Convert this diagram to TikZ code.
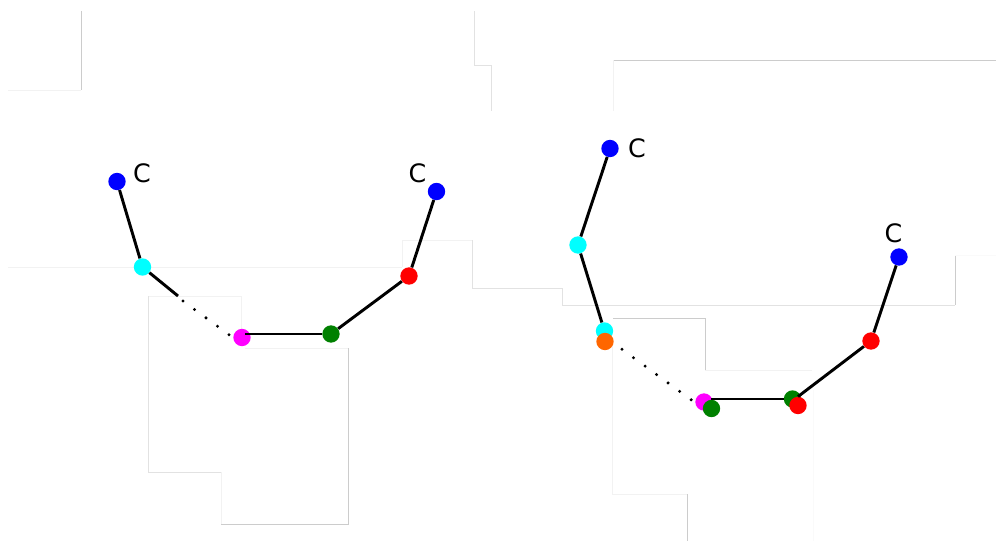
\documentclass[tikz,border=0pt]{standalone}
\usepackage{fontspec}
\setmainfont{DejaVu Sans}
\definecolor{edgeA}{HTML}{CCCCCC}
\definecolor{edgeB}{HTML}{E2E2E2}
\definecolor{edgeC}{HTML}{F2F2F2}
\definecolor{edgeD}{HTML}{FAFAFA}
\definecolor{ptblue}{HTML}{0000FF}
\definecolor{ptred}{HTML}{FF0000}
\definecolor{ptcyan}{HTML}{00FFFF}
\definecolor{ptmagenta}{HTML}{FF00FF}
\definecolor{ptorange}{HTML}{FF6600}
\definecolor{ptgreen}{HTML}{008000}
\tikzset{
  pt/.style={circle,inner sep=0pt,minimum size=13pt,fill=#1,draw=none},
  seg/.style={black,line width=2.2pt},
  dots/.style={black,line width=2.5pt,line cap=round,dash pattern=on 0pt off 10.7pt},
  lab/.style={inner sep=0pt,font=\fontsize{19}{19}\selectfont},
  ga/.style={edgeA,line width=0.7pt},
  gb/.style={edgeB,line width=0.7pt},
  gc/.style={edgeC,line width=0.7pt},
  gd/.style={edgeD,line width=0.7pt}
}
\begin{document}
\begin{tikzpicture}[x=0.75pt,y=-0.75pt]
\useasboundingbox (0,0) rectangle (996,541);
% faint edges
\draw[ga] (81,11) -- (81,90);
\draw[gc] (81,90) -- (8,90);
\draw[gb] (474.5,11) -- (474.5,65) -- (491.5,65) -- (491.5,111);
\draw[gc] (8,267) -- (402,267);
\draw[gc] (402,267) -- (402,240) -- (472.5,240);
\draw[gb] (472.5,240) -- (472.5,288) -- (562,288);
\draw[gb] (562,288) -- (562,305) -- (955,305);
\draw[ga] (955,305) -- (955,255);
\draw[gd] (955,255) -- (996,255);
\draw[gc] (241,330) -- (241,296.5) -- (148,296.5);
\draw[gb] (148,296.5) -- (148,472) -- (221,472);
\draw[gc] (221,472) -- (221,524);
\draw[ga] (221,524) -- (348.3,524) -- (348.3,348.5);
\draw[gc] (348.3,348.5) -- (245,348.5);
\draw[ga] (613,60.5) -- (996,60.5);
\draw[gc] (613,60.5) -- (613,111);
\draw[ga] (613,318.3) -- (705,318.3) -- (705,370);
\draw[gc] (705,370) -- (812,370);
\draw[gd] (813,390) -- (813,541);
\draw[gc] (612,345) -- (612,494) -- (687,494);
\draw[ga] (687,494) -- (687,541);
% left chain
\coordinate (la) at (178,296);
\coordinate (lb) at (183,301);
\coordinate (lc) at (230.5,335.8);
\coordinate (ld) at (245,334);
\node[pt=ptblue] (L1) at (117,181.5) {};
\node[pt=ptcyan] (L2) at (142.5,267) {};
\node[pt=ptmagenta] (L3) at (242,337.5) {};
\node[pt=ptgreen] (L4) at (331,334) {};
\node[pt=ptred] (L5) at (409,276) {};
\node[pt=ptblue] (L6) at (436.5,191.5) {};
\draw[seg] (L1) -- (L2);
\draw[seg] (L2) -- (la);
\draw[dots] (lb) -- (lc);
\draw[seg] (ld) -- (L4);
\draw[seg] (L4) -- (L5);
\draw[seg] (L5) -- (L6);
\node[lab] (C1) at (142,173.5) {C};
\node[lab] (C2) at (417.5,173) {C};
% right chain
\coordinate (ra) at (622,349.3);
\coordinate (rb) at (692.5,400.8);
\coordinate (rc) at (711,399);
\node[pt=ptblue] (R1) at (610,148.5) {};
\node[pt=ptcyan] (R2) at (578,245) {};
\node[pt=ptcyan] (R3) at (604.5,331) {};
\node[pt=ptorange] (R4) at (605,341.5) {};
\node[pt=ptmagenta] (R5) at (704,402) {};
\node[pt=ptgreen] (R6) at (711.5,408.5) {};
\node[pt=ptgreen] (R7) at (792.5,399) {};
\node[pt=ptred] (R8) at (798,405.5) {};
\node[pt=ptred] (R9) at (871,341) {};
\node[pt=ptblue] (R10) at (899,257) {};
\draw[seg] (R1) -- (R2);
\draw[seg] (R2) -- (R3);
\draw[dots] (ra) -- (rb);
\draw[seg] (rc) -- (R7);
\draw[seg] (R8.north) -- (R9);
\draw[seg] (R9) -- (R10);
\node[lab] (C3) at (637,148) {C};
\node[lab] (C4) at (893.5,233) {C};
\end{tikzpicture}
\end{document}
